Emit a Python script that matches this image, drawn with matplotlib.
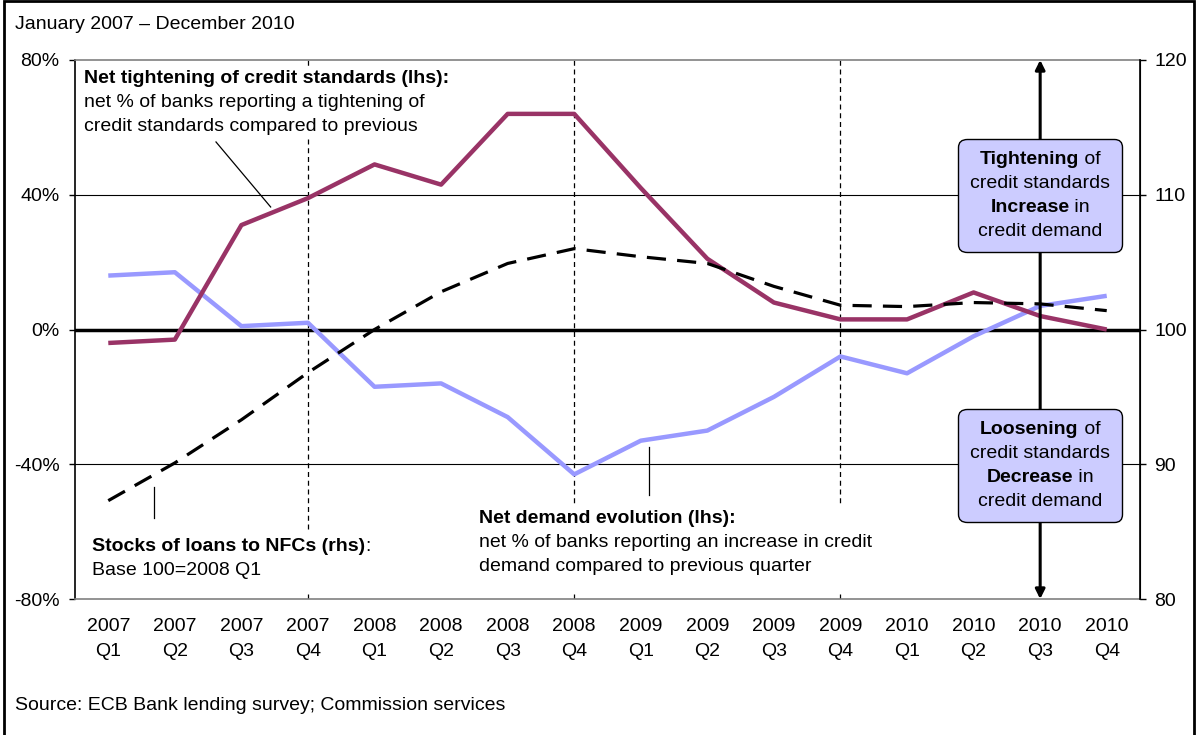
import numpy as np
import matplotlib
matplotlib.use("Agg")
import matplotlib.pyplot as plt
from matplotlib.patches import Rectangle
from matplotlib.lines import Line2D
from matplotlib.offsetbox import TextArea, HPacker, VPacker, AnnotationBbox, DrawingArea

plt.rcParams['font.family'] = ['Liberation Sans', 'DejaVu Sans']

# data
quarters = ["2007\nQ1", "2007\nQ2", "2007\nQ3", "2007\nQ4",
            "2008\nQ1", "2008\nQ2", "2008\nQ3", "2008\nQ4",
            "2009\nQ1", "2009\nQ2", "2009\nQ3", "2009\nQ4",
            "2010\nQ1", "2010\nQ2", "2010\nQ3", "2010\nQ4"]
tightening = [-4, -3, 31, 39, 49, 43, 64, 64, 42, 21, 8, 3, 3, 11, 4, 0]
demand = [16, 17, 1, 2, -17, -16, -26, -43, -33, -30, -20, -8, -13, -2, 7, 10]
loans_stock = [87.3, 90.1, 93.3, 96.8, 100.0, 102.8, 104.9, 106.0,
               105.4, 104.9, 103.2, 101.8, 101.7, 102.0, 101.9, 101.4]
lhs_ticks = [-80, -40, 0, 40, 80]
rhs_ticks = [80, 90, 100, 110, 120]
year_ends = [3, 7, 11]

FS = 14
purple = '#993366'
lightblue = '#9999FF'
boxblue = '#CCCCFF'

fig = plt.figure(figsize=(11.98, 7.35), dpi=100)
ax = fig.add_axes([0.0626, 0.185, 0.889, 0.7334])
x = np.arange(len(quarters))

# frame round the whole picture
fig.patches.append(Rectangle((0.0035, -0.02), 0.9935, 1.0185, transform=fig.transFigure,
                             fill=False, lw=2, ec='black'))

ax.set_xlim(-0.5, len(quarters) - 0.5)
ax.set_ylim(-80, 80)
for t in lhs_ticks:
    if t == 0:
        ax.axhline(0, color='black', lw=2.5, zorder=2)
    elif abs(t) < 80:
        ax.axhline(t, color='black', lw=0.8, zorder=1)
for xe in year_ends:
    ax.axvline(xe, color='black', lw=0.9, ls=(0, (4, 3)), zorder=1)

ax.plot(x, demand, color=lightblue, lw=3.2, zorder=3, solid_capstyle='butt')
ax.plot(x, tightening, color=purple, lw=3.2, zorder=4, solid_capstyle='butt')

ax.set_yticks(lhs_ticks)
ax.set_yticklabels([f"{t}%" for t in lhs_ticks], fontsize=FS)
ax.set_xticks(x)
ax.set_xticklabels(quarters, fontsize=FS, linespacing=1.6)
ax.tick_params(axis='x', length=0, pad=14)
ax.tick_params(axis='y', direction='out', length=4, width=1, pad=7)
for s in ['top', 'bottom']:
    ax.spines[s].set_color('#808080')
    ax.spines[s].set_linewidth(1.2)
ax.spines['left'].set_linewidth(1.2)

ax2 = ax.twinx()
ax2.set_ylim(80, 120)
ax2.plot(x, loans_stock, color='black', lw=2.3, ls=(0, (6, 3.5)), zorder=5)
ax2.set_yticks(rhs_ticks)
ax2.set_yticklabels([str(t) for t in rhs_ticks], fontsize=FS)
ax2.tick_params(axis='y', direction='out', length=4.5, width=1, pad=6)
for s in ['top', 'bottom', 'left']:
    ax2.spines[s].set_visible(False)
ax2.spines['right'].set_linewidth(1.2)

# double arrow in 2010 Q3
ax.annotate('', xy=(14, 80), xytext=(14, -80),
            arrowprops=dict(arrowstyle='<|-|>', lw=2.2, color='black',
                            mutation_scale=14, shrinkA=0, shrinkB=0), zorder=6)


def block(rows, xy, xycoords, align, box_align, boxprops, sep=5.2, tail=0):
    packs = []
    for parts in rows:
        areas = [TextArea(t, textprops=dict(fontsize=FS, fontweight=w))
                 for t, w in parts]
        packs.append(HPacker(children=areas, align='baseline', pad=0, sep=0))
    if tail:
        packs.append(DrawingArea(1, tail))
    vp = VPacker(children=packs, align=align, pad=0, sep=sep)
    ab = AnnotationBbox(vp, xy, xycoords=xycoords, box_alignment=box_align,
                        frameon=True, bboxprops=boxprops, zorder=7)
    ax.add_artist(ab)
    return ab


boxstyle = dict(boxstyle='round,pad=0.85,rounding_size=0.6', fc=boxblue, ec='black', lw=1)
block([[("Tightening", 'bold'), (" of", 'normal')],
       [("credit standards", 'normal')],
       [("Increase", 'bold'), (" in", 'normal')],
       [("credit demand", 'normal')]],
      (14, 39.8), 'data', 'center', (0.5, 0.5), boxstyle)
block([[("Loosening", 'bold'), (" of", 'normal')],
       [("credit standards", 'normal')],
       [("Decrease", 'bold'), (" in", 'normal')],
       [("credit demand", 'normal')]],
      (14, -40.4), 'data', 'center', (0.5, 0.5), boxstyle)

mask = dict(boxstyle='square,pad=0.3', fc='white', ec='none')
block([[("Net tightening of credit standards (lhs):", 'bold')],
       [("net % of banks reporting a tightening of", 'normal')],
       [("credit standards compared to previous", 'normal')]],
      (0.0085, 0.982), 'axes fraction', 'left', (0, 1), mask)
block([[("Stocks of loans to NFCs (rhs)", 'bold'), (":", 'normal')],
       [("Base 100=2008 Q1", 'normal')]],
      (0.016, 0.114), 'axes fraction', 'left', (0, 1), mask, tail=1.5)
block([[("Net demand evolution (lhs):", 'bold')],
       [("net % of banks reporting an increase in credit", 'normal')],
       [("demand compared to previous quarter", 'normal')]],
      (0.379, 0.166), 'axes fraction', 'left', (0, 1), mask, tail=3)

# leader lines
for (x0, y0), (x1, y1) in [((0.1324, 0.8479), (0.1837, 0.7273)),
                           ((0.0742, 0.2078), (0.0742, 0.1503)),
                           ((0.5394, 0.282), (0.5394, 0.193))]:
    ax.add_line(Line2D([x0, x1], [y0, y1], transform=ax.transAxes,
                       color='black', lw=0.9, zorder=8))

fig.text(0.0125, 0.966, "January 2007 \u2013 December 2010", fontsize=FS, va='center')
fig.text(0.0125, 0.040, "Source: ECB Bank lending survey; Commission services",
         fontsize=FS, va='center')

fig.savefig("out.png", dpi=100)
